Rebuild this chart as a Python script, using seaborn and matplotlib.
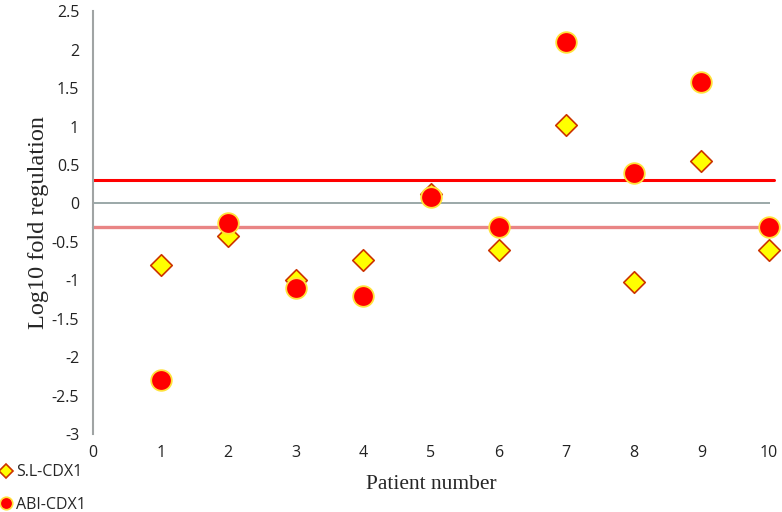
import pandas as pd
import matplotlib.pyplot as plt
import seaborn as sns
from matplotlib.lines import Line2D

# ---------- DATA ----------
patients = [1, 2, 3, 4, 5, 6, 7, 8, 9, 10]
sl_cdx1 = [-0.80, -0.42, -1.00, -0.73, 0.13, -0.60, 1.02, -1.02, 0.55, -0.60]
abi_cdx1 = [-2.30, -0.25, -1.10, -1.20, 0.08, -0.30, 2.10, 0.40, 1.58, -0.30]
thresholds = [0.3, -0.3]
x_ticks = list(range(0, 11))
y_ticks = [2.5, 2, 1.5, 1, 0.5, 0, -0.5, -1, -1.5, -2, -2.5, -3]

df = pd.DataFrame({"Patient": patients, "S.L-CDX1": sl_cdx1, "ABI-CDX1": abi_cdx1})

# ---------- STYLE ----------
sns.set_theme(style="white")
plt.rcParams["font.family"] = ["Open Sans", "DejaVu Sans"]

fig = plt.figure(figsize=(7.82, 5.12), dpi=100)
ax = fig.add_axes([0.119, 0.152, 0.866, 0.826])

# ---------- REFERENCE LINES ----------
ax.axhline(0, color="#8a9a9a", lw=1.2, zorder=1)
ax.plot([0, 10.07], [thresholds[0]] * 2, color="#ff0000", lw=2.2, zorder=2, clip_on=False)
ax.plot([0, 10.07], [thresholds[1]] * 2, color="#e98585", lw=2.4, zorder=2, clip_on=False)

# ---------- POINTS ----------
sns.scatterplot(data=df, x="Patient", y="S.L-CDX1", marker="D", s=120,
                color="#ffff00", edgecolor="#cc3300", linewidth=1.2, ax=ax,
                zorder=3, clip_on=False)
sns.scatterplot(data=df, x="Patient", y="ABI-CDX1", marker="o", s=220,
                color="#ff0000", edgecolor="#ffe23a", linewidth=1.3, ax=ax,
                zorder=4, clip_on=False)

# ---------- AXES ----------
ax.set_xlim(0, 10.02)
ax.set_ylim(-3, 2.5)
ax.set_xticks(x_ticks)
ax.set_yticks(y_ticks)
ax.set_yticklabels([f"{v:g}" for v in y_ticks])
ax.tick_params(axis="both", length=0, labelsize=11.5, colors="#222222")
ax.tick_params(axis="x", pad=8)
ax.tick_params(axis="y", pad=10)
for side in ["top", "right", "bottom"]:
    ax.spines[side].set_visible(False)
ax.spines["left"].set_color("#a0a4a4")
ax.spines["left"].set_linewidth(1.5)

ax.set_xlabel("Patient number", family="Liberation Serif", fontsize=15.5, labelpad=10)
ax.set_ylabel("Log10 fold regulation", family="Liberation Serif", fontsize=17.5, labelpad=2)

# ---------- LEGEND ----------
handles = [
    Line2D([], [], marker="D", ls="", markersize=7, markerfacecolor="#ffff00",
           markeredgecolor="#cc3300", markeredgewidth=1.2, label="S.L-CDX1"),
    Line2D([], [], marker="o", ls="", markersize=9, markerfacecolor="#ff0000",
           markeredgecolor="#ffe23a", markeredgewidth=1.2, label="ABI-CDX1"),
]
fig.legend(handles=handles, loc="upper left", bbox_to_anchor=(-0.006, 0.106),
           frameon=False, fontsize=11.5, handlelength=0.6, handletextpad=0.3,
           labelspacing=1.05, borderaxespad=0)

fig.savefig("out.png", dpi=100)
